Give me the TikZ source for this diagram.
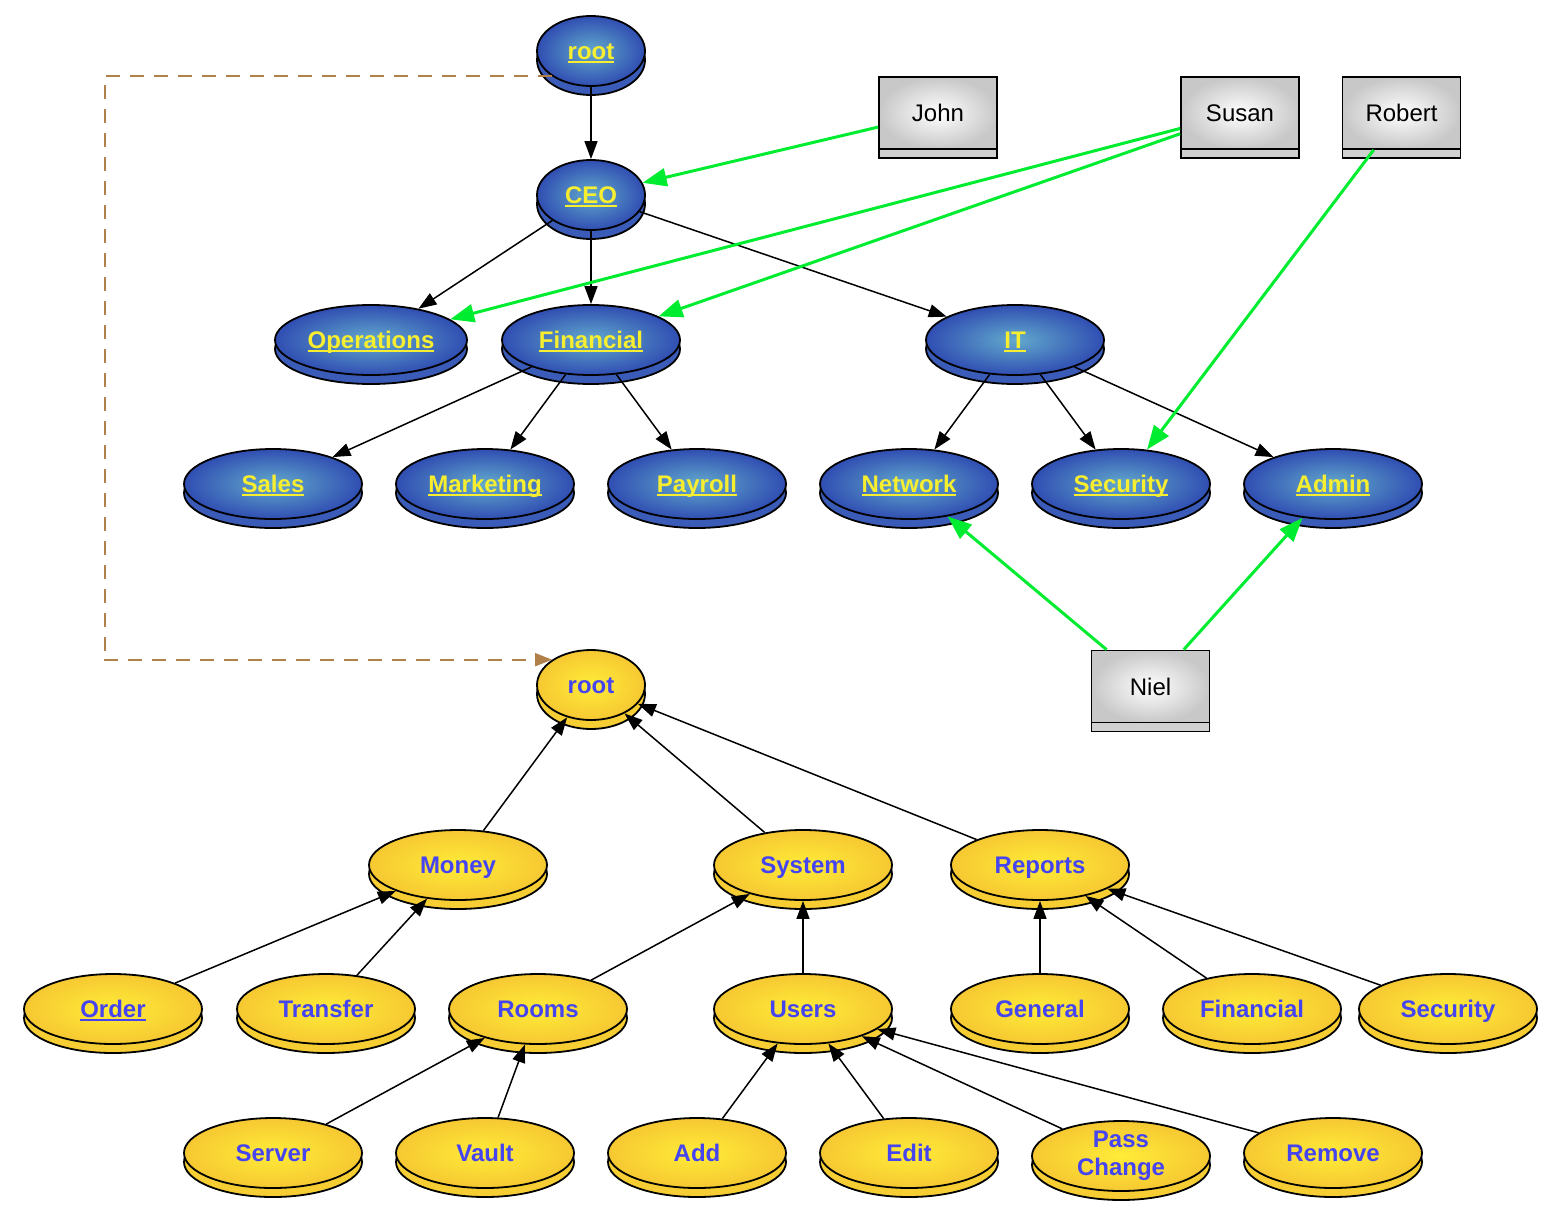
\documentclass[tikz,border=0pt]{standalone}
\usepackage{fontspec}
\setmainfont{Liberation Sans}
\usetikzlibrary{shapes.geometric,shadows,arrows.meta}
\definecolor{bIn}{RGB}{98,170,205}
\definecolor{bOut}{RGB}{48,78,178}
\definecolor{bSh}{RGB}{58,92,184}
\definecolor{yIn}{RGB}{255,236,56}
\definecolor{yOut}{RGB}{246,200,50}
\definecolor{ySh}{RGB}{246,206,52}
\definecolor{tYel}{RGB}{248,238,48}
\definecolor{tBlu}{RGB}{68,68,240}
\definecolor{gIn}{RGB}{255,255,255}
\definecolor{gOut}{RGB}{200,200,200}
\definecolor{gSh}{RGB}{208,208,208}
\definecolor{grn}{RGB}{0,236,48}
\definecolor{brn}{RGB}{176,128,72}
\newcommand\ulx[1]{\setbox0\hbox{#1}\rlap{\rule[-3.5pt]{\wd0}{2pt}}\box0}
\begin{document}
\begin{tikzpicture}[x=1pt,y=-1pt,
  ell/.style={ellipse, draw=black, line width=1.8pt, minimum height=70pt, minimum width=178pt,
    inner sep=0pt, font=\fontsize{24}{28}\selectfont\bfseries},
  oneline/.style={text height=17pt, text depth=0pt},
  bnode/.style={ell, oneline, inner color=bIn, outer color=bOut, text=tYel,
    general shadow={shadow yshift=-9pt, fill=bSh, draw=black, line width=1.8pt}},
  ynode/.style={ell, oneline, inner color=yIn, outer color=yOut, text=tBlu,
    general shadow={shadow yshift=-9pt, fill=ySh, draw=black, line width=1.8pt}},
  small/.style={minimum width=108pt},
  gbox/.style={rectangle, draw=black, line width=1.8pt, minimum width=118pt, minimum height=72pt,
    inner color=gIn, outer color=gOut, font=\fontsize{24}{28}\selectfont, oneline, inner sep=0pt,
    general shadow={shadow yshift=-9pt, fill=gSh, draw=black, line width=1.8pt}},
  bedge/.style={draw=black, line width=1.5pt, -{Triangle[length=18pt,width=13pt]}},
  gedge/.style={draw=grn, line width=3pt, -{Triangle[length=24pt,width=18pt]}},
  dedge/.style={draw=brn, line width=2pt, dash pattern=on 14pt off 10pt, -{Triangle[length=17pt,width=13pt]}}
]
\useasboundingbox (0,0) rectangle (1560,1220);

% blue hierarchy
\node[bnode, small] (broot) at (591,51) {\ulx{root}};
\node[bnode, small] (ceo) at (591,195) {\ulx{CEO}};
\node[bnode, minimum width=192pt] (ops) at (371,340) {\ulx{Operations}};
\node[bnode] (fin) at (591,340) {\ulx{Financial}};
\node[bnode] (it) at (1015,340) {\ulx{IT}};
\node[bnode] (sales) at (273,484) {\ulx{Sales}};
\node[bnode] (mkt) at (485,484) {\ulx{Marketing}};
\node[bnode] (pay) at (697,484) {\ulx{Payroll}};
\node[bnode] (net) at (909,484) {\ulx{Network}};
\node[bnode] (bsec) at (1121,484) {\ulx{Security}};
\node[bnode] (adm) at (1333,484) {\ulx{Admin}};

% people
\node[gbox] (john) at (938,113) {John};
\node[gbox] (susan) at (1240,113) {Susan};
\node[gbox] (robert) at (1401.5,113) {Robert};
\node[gbox] (niel) at (1150.5,686.5) {Niel};

% yellow hierarchy
\node[ynode, small] (yroot) at (591,685) {root};
\node[ynode] (money) at (458,865) {Money};
\node[ynode] (system) at (803,865) {System};
\node[ynode] (reports) at (1040,865) {Reports};
\node[ynode] (order) at (113,1009) {\ulx{Order}};
\node[ynode] (transfer) at (326,1009) {Transfer};
\node[ynode] (rooms) at (538,1009) {Rooms};
\node[ynode] (users) at (803,1009) {Users};
\node[ynode] (general) at (1040,1009) {General};
\node[ynode] (yfin) at (1252,1009) {Financial};
\node[ynode] (ysec) at (1448,1009) {Security};
\node[ynode] (server) at (273,1153) {Server};
\node[ynode] (vault) at (485,1153) {Vault};
\node[ynode] (add) at (697,1153) {Add};
\node[ynode] (edit) at (909,1153) {Edit};
\node[ynode, text height={}, text depth={}, align=center, inner sep=-4pt,
  font=\fontsize{24}{28}\selectfont\bfseries] (pass) at (1121,1156) {Pass\\Change};
\node[ynode] (remove) at (1333,1153) {Remove};

% blue edges
\draw[bedge] (broot) -- (ceo);
\draw[bedge] (ceo) -- (ops);
\draw[bedge] (ceo) -- (fin);
\draw[bedge] (ceo) -- (it);
\draw[bedge] (fin) -- (sales);
\draw[bedge] (fin) -- (mkt);
\draw[bedge] (fin) -- (pay);
\draw[bedge] (it) -- (net);
\draw[bedge] (it) -- (bsec);
\draw[bedge] (it) -- (adm);

% yellow edges
\draw[bedge] (money) -- (yroot);
\draw[bedge] (system) -- (yroot);
\draw[bedge] (reports) -- (yroot);
\draw[bedge] (order) -- (money);
\draw[bedge] (transfer) -- (money);
\draw[bedge] (rooms) -- (system);
\draw[bedge] (users) -- (system);
\draw[bedge] (general) -- (reports);
\draw[bedge] (yfin) -- (reports);
\draw[bedge] (ysec) -- (reports);
\draw[bedge] (server) -- (rooms);
\draw[bedge] (vault) -- (rooms);
\draw[bedge] (add) -- (users);
\draw[bedge] (edit) -- (users);
\draw[bedge] (pass) -- (users);
\draw[bedge] (remove) -- (users);

% green assignments
\draw[gedge] (john) -- (ceo);
\draw[gedge] (susan) -- (ops);
\draw[gedge] (susan) -- (fin);
\draw[gedge] (robert) -- (bsec);
\draw[gedge] (niel) -- (net);
\draw[gedge] (niel) -- (adm);

% dashed link
\coordinate (dc) at (105,661);
\draw[dedge] (broot.213) -| (dc) |- (yroot.147);
\end{tikzpicture}
\end{document}
